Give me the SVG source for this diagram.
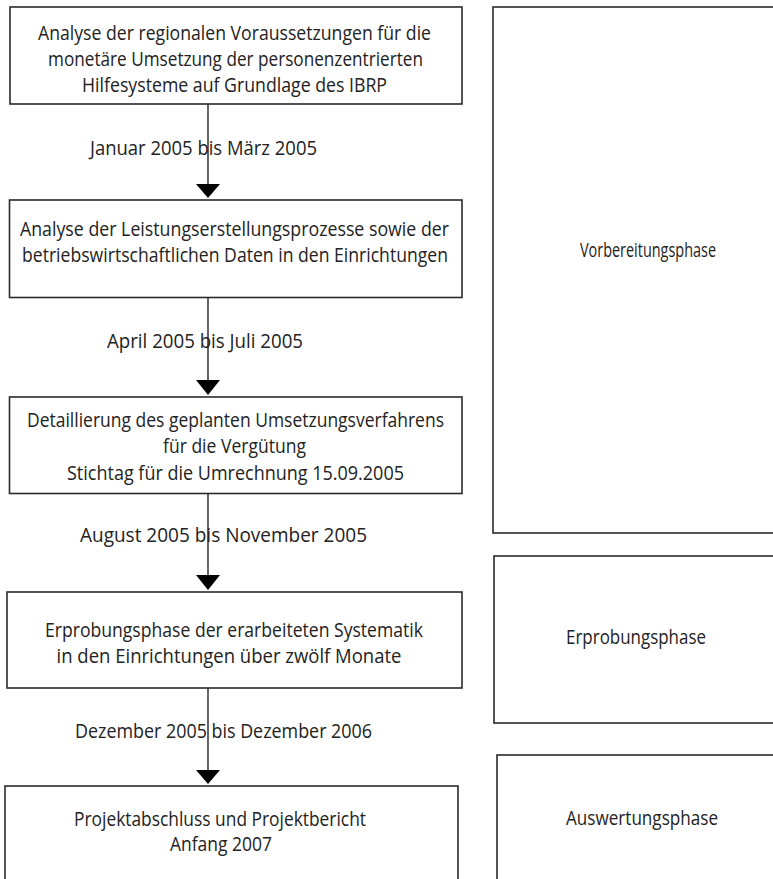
<svg xmlns="http://www.w3.org/2000/svg" width="773" height="879" viewBox="0 0 773 879">
<style>
.box{fill:#fff;stroke:#2a2a2a;stroke-width:1.6}
.t{font-family:"Liberation Sans Narrow","Open Sans","Liberation Sans",sans-serif;font-size:20px;fill:#222;text-anchor:middle}
.c{stroke:#111;stroke-width:1.3;fill:none}
.h{fill:#000}
</style>
<rect width="773" height="879" fill="#fff"/>
<g id="connectors">
<line class="c" x1="208" y1="104" x2="208" y2="185"/><path class="h" d="M196,184 L220,184 L208,198 Z"/>
<line class="c" x1="208" y1="298" x2="208" y2="381"/><path class="h" d="M196,380 L220,380 L208,395 Z"/>
<line class="c" x1="208" y1="494" x2="208" y2="576"/><path class="h" d="M196,575 L220,575 L208,590 Z"/>
<line class="c" x1="208" y1="688" x2="208" y2="771"/><path class="h" d="M196,770 L220,770 L208,784 Z"/>
<text class="t" x="203.5" y="155" textLength="227" lengthAdjust="spacingAndGlyphs">Januar 2005 bis März 2005</text>
<text class="t" x="205" y="348" textLength="196" lengthAdjust="spacingAndGlyphs">April 2005 bis Juli 2005</text>
<text class="t" x="223.5" y="542" textLength="287" lengthAdjust="spacingAndGlyphs">August 2005 bis November 2005</text>
<text class="t" x="223.5" y="738" textLength="297" lengthAdjust="spacingAndGlyphs">Dezember 2005 bis Dezember 2006</text>
</g>
<g id="box1">
<rect class="box" x="10" y="7" width="452" height="97"/>
<text class="t" x="234.5" y="40" textLength="393" lengthAdjust="spacingAndGlyphs">Analyse der regionalen Voraussetzungen für die</text>
<text class="t" x="235.5" y="66" textLength="375" lengthAdjust="spacingAndGlyphs">monetäre Umsetzung der personenzentrierten</text>
<text class="t" x="234.5" y="92" textLength="305" lengthAdjust="spacingAndGlyphs">Hilfesysteme auf Grundlage des IBRP</text>
</g>
<g id="box2">
<rect class="box" x="9.5" y="200" width="452.5" height="97.5"/>
<text class="t" x="234.5" y="236" textLength="429" lengthAdjust="spacingAndGlyphs">Analyse der Leistungserstellungsprozesse sowie der</text>
<text class="t" x="235" y="262" textLength="426" lengthAdjust="spacingAndGlyphs">betriebswirtschaftlichen Daten in den Einrichtungen</text>
</g>
<g id="box3">
<rect class="box" x="9.5" y="397" width="452.5" height="96.5"/>
<text class="t" x="235.5" y="427" textLength="417" lengthAdjust="spacingAndGlyphs">Detaillierung des geplanten Umsetzungsverfahrens</text>
<text class="t" x="234.5" y="453" textLength="143" lengthAdjust="spacingAndGlyphs">für die Vergütung</text>
<text class="t" x="235.5" y="480" textLength="337" lengthAdjust="spacingAndGlyphs">Stichtag für die Umrechnung 15.09.2005</text>
</g>
<g id="box4">
<rect class="box" x="7" y="592" width="455" height="96"/>
<text class="t" x="234" y="637" textLength="378" lengthAdjust="spacingAndGlyphs">Erprobungsphase der erarbeiteten Systematik</text>
<text class="t" x="229" y="663" textLength="345" lengthAdjust="spacingAndGlyphs">in den Einrichtungen über zwölf Monate</text>
</g>
<g id="box5">
<rect class="box" x="5" y="786" width="453" height="110"/>
<text class="t" x="220" y="826" textLength="292" lengthAdjust="spacingAndGlyphs">Projektabschluss und Projektbericht</text>
<text class="t" x="221" y="851" textLength="102" lengthAdjust="spacingAndGlyphs">Anfang 2007</text>
</g>
<g id="phase1">
<rect class="box" x="493" y="7" width="300" height="526"/>
<text class="t" x="648" y="257" textLength="136" lengthAdjust="spacingAndGlyphs">Vorbereitungsphase</text>
</g>
<g id="phase2">
<rect class="box" x="494" y="556" width="300" height="167"/>
<text class="t" x="636" y="644" textLength="140" lengthAdjust="spacingAndGlyphs">Erprobungsphase</text>
</g>
<g id="phase3">
<rect class="box" x="497" y="755" width="300" height="140"/>
<text class="t" x="642" y="825" textLength="152" lengthAdjust="spacingAndGlyphs">Auswertungsphase</text>
</g>
</svg>
